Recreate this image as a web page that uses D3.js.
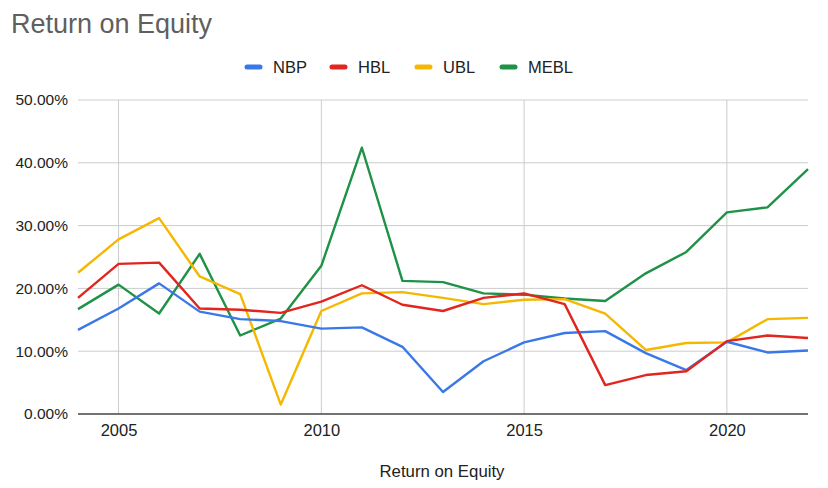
<!DOCTYPE html>
<html>
<head>
<meta charset="utf-8">
<script src="https://cdn.jsdelivr.net/npm/d3@7"></script>
<style>
  body { margin: 0; background: #fff; }
  text { font-family: "Liberation Sans", Arial, sans-serif; }
</style>
</head>
<body>
<div id="chart"></div>
<script>
const years = d3.range(2004, 2023);
const seriesNames = ['NBP', 'HBL', 'UBL', 'MEBL'];
const seriesColors = ['#3b78e7', '#e0261f', '#f5b800', '#1e9246'];
const nbp = [13.4, 16.8, 20.8, 16.3, 15.1, 14.8, 13.6, 13.8, 10.7, 3.5, 8.4, 11.4, 12.9, 13.2, 9.7, 7.0, 11.5, 9.8, 10.1];
const hbl = [18.5, 23.9, 24.1, 16.8, 16.6, 16.1, 17.9, 20.5, 17.4, 16.4, 18.5, 19.2, 17.5, 4.6, 6.2, 6.8, 11.6, 12.5, 12.1];
const ubl = [22.5, 27.8, 31.2, 21.9, 19.1, 1.5, 16.4, 19.2, 19.4, 18.5, 17.5, 18.2, 18.3, 16.0, 10.2, 11.3, 11.4, 15.1, 15.3];
const mebl = [16.7, 20.6, 16.0, 25.5, 12.5, 15.2, 23.6, 42.4, 21.2, 21.0, 19.2, 19.0, 18.4, 18.0, 22.4, 25.8, 32.1, 32.9, 39.0];
const seriesValues = [nbp, hbl, ubl, mebl];
const yTicks = [0, 10, 20, 30, 40, 50];
const xTicks = [2005, 2010, 2015, 2020];

const W = 828, H = 488;
const m = { top: 100, right: 20, bottom: 74, left: 78 };

const svg = d3.select('#chart').append('svg')
  .attr('width', W).attr('height', H);

const x = d3.scaleLinear().domain([2004, 2022]).range([m.left, W - m.right]);
const y = d3.scaleLinear().domain([0, 50]).range([H - m.bottom, m.top]);

// title
svg.append('text')
  .attr('x', 11).attr('y', 33)
  .attr('font-size', 27)
  .attr('fill', '#5f5f5f')
  .text('Return on Equity');

// legend
const legendX = [245, 330, 415, 500];
const legend = svg.append('g');
seriesNames.forEach((name, i) => {
  const g = legend.append('g').attr('transform', `translate(${legendX[i]},67)`);
  g.append('line')
    .attr('x1', 2).attr('x2', 15).attr('y1', 0).attr('y2', 0)
    .attr('stroke', seriesColors[i]).attr('stroke-width', 5)
    .attr('stroke-linecap', 'round');
  g.append('text')
    .attr('x', 28).attr('y', 6)
    .attr('font-size', 16.5)
    .attr('fill', '#222')
    .text(name);
});

// horizontal grid
svg.append('g')
  .selectAll('line')
  .data(yTicks.filter(d => d > 0))
  .enter().append('line')
  .attr('x1', m.left).attr('x2', W - m.right)
  .attr('y1', d => y(d)).attr('y2', d => y(d))
  .attr('stroke', '#cccccc').attr('stroke-width', 1);

// vertical grid
svg.append('g')
  .selectAll('line')
  .data(xTicks)
  .enter().append('line')
  .attr('x1', d => x(d)).attr('x2', d => x(d))
  .attr('y1', m.top).attr('y2', H - m.bottom)
  .attr('stroke', '#cccccc').attr('stroke-width', 1);

// y axis labels
const yAxis = d3.axisLeft(y).tickValues(yTicks).tickSize(0).tickPadding(10)
  .tickFormat(d => d3.format('.2f')(d) + '%');
svg.append('g')
  .attr('transform', `translate(${m.left},0)`)
  .call(yAxis)
  .call(g => g.select('.domain').remove())
  .call(g => g.selectAll('text').attr('font-size', 15.5).attr('fill', '#222')
    .attr('font-family', '"Liberation Sans", Arial, sans-serif'));

// x axis labels
const xAxis = d3.axisBottom(x).tickValues(xTicks).tickSize(0).tickPadding(10)
  .tickFormat(d3.format('d'));
svg.append('g')
  .attr('transform', `translate(0,${H - m.bottom})`)
  .call(xAxis)
  .call(g => g.select('.domain').remove())
  .call(g => g.selectAll('text').attr('font-size', 16.5).attr('fill', '#222')
    .attr('font-family', '"Liberation Sans", Arial, sans-serif'));

// lines
const line = d3.line()
  .x((d, i) => x(years[i]))
  .y(d => y(d));
const order = [3, 2, 0, 1];
order.forEach(i => {
  svg.append('path')
    .datum(seriesValues[i])
    .attr('fill', 'none')
    .attr('stroke', seriesColors[i])
    .attr('stroke-width', 2.4)
    .attr('stroke-linejoin', 'round')
    .attr('d', line);
});

// baseline
svg.append('line')
  .attr('x1', m.left).attr('x2', W - m.right)
  .attr('y1', y(0)).attr('y2', y(0))
  .attr('stroke', '#444').attr('stroke-width', 1.5);

// x axis title
svg.append('text')
  .attr('x', 442).attr('y', 477)
  .attr('text-anchor', 'middle')
  .attr('font-size', 16.8)
  .attr('fill', '#222')
  .text('Return on Equity');
</script>
</body>
</html>
